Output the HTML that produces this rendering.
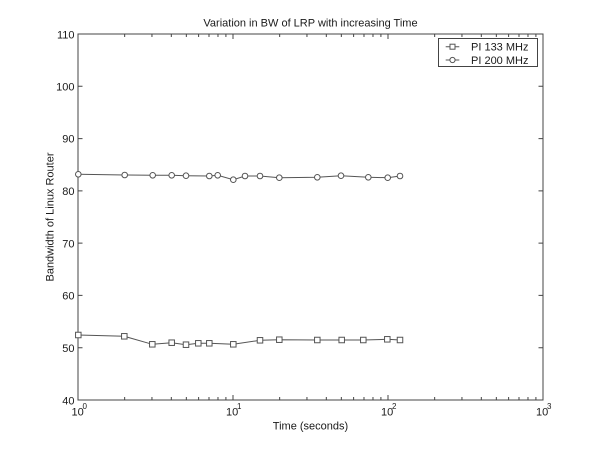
<!DOCTYPE html>
<html><head><meta charset="utf-8">
<style>
html,body{margin:0;padding:0;background:#fff;}
svg{display:block;}
text{font-family:"Liberation Sans",Arial,sans-serif;fill:#1a1a1a;}
</style></head>
<body>
<svg width="600" height="450" viewBox="0 0 600 450" xmlns="http://www.w3.org/2000/svg">
<rect width="600" height="450" fill="#fff"/>
<text x="310.5" y="26.5" font-size="11" text-anchor="middle">Variation in BW of LRP with increasing Time</text>
<rect x="78" y="34" width="465" height="366" fill="none" stroke="#444" stroke-width="1"/>
<g stroke="#444" stroke-width="1">
<path d="M78 86.29h4.5M78 138.57h4.5M78 190.86h4.5M78 243.14h4.5M78 295.43h4.5M78 347.71h4.5
M543 86.29h-4.5M543 138.57h-4.5M543 190.86h-4.5M543 243.14h-4.5M543 295.43h-4.5M543 347.71h-4.5"/>
<path d="M233 400v-5M388 400v-5M233 34v5M388 34v5"/>
<path d="M124.66 400v-3M151.95 400v-3M171.32 400v-3M186.34 400v-3M198.61 400v-3M208.99 400v-3M217.98 400v-3M225.91 400v-3
M279.66 400v-3M306.95 400v-3M326.32 400v-3M341.34 400v-3M353.61 400v-3M363.99 400v-3M372.98 400v-3M380.91 400v-3
M434.66 400v-3M461.95 400v-3M481.32 400v-3M496.34 400v-3M508.61 400v-3M518.99 400v-3M527.98 400v-3M535.91 400v-3"/>
<path d="M124.66 34v3M151.95 34v3M171.32 34v3M186.34 34v3M198.61 34v3M208.99 34v3M217.98 34v3M225.91 34v3
M279.66 34v3M306.95 34v3M326.32 34v3M341.34 34v3M353.61 34v3M363.99 34v3M372.98 34v3M380.91 34v3
M434.66 34v3M461.95 34v3M481.32 34v3M496.34 34v3M508.61 34v3M518.99 34v3M527.98 34v3M535.91 34v3"/>
</g>
<g font-size="11" text-anchor="end">
<text x="74.5" y="38.5">110</text>
<text x="74.5" y="90.5">100</text>
<text x="74.5" y="142.5">90</text>
<text x="74.5" y="195">80</text>
<text x="74.5" y="247.5">70</text>
<text x="74.5" y="299.5">60</text>
<text x="74.5" y="352">50</text>
<text x="74.5" y="404.5">40</text>
</g>
<g font-size="11">
<text x="71.5" y="415.5">10</text><text x="82.5" y="409" font-size="8">0</text>
<text x="226" y="415.5">10</text><text x="237" y="409" font-size="8">1</text>
<text x="381" y="415.5">10</text><text x="392" y="409" font-size="8">2</text>
<text x="536" y="415.5">10</text><text x="547" y="409" font-size="8">3</text>
</g>
<text x="310.5" y="429.5" font-size="11" text-anchor="middle">Time (seconds)</text>
<text transform="translate(53.5,217) rotate(-90)" font-size="11" text-anchor="middle">Bandwidth of Linux Router</text>

<g stroke="#555" stroke-width="1" fill="none">
<polyline points="78.3,174.3 124.7,175 152.7,175.3 171.7,175.3 186,175.7 209.3,176 217.7,175.3 233.3,179.7 245,176 260,176 279.3,177.7 317.3,177.3 341,175.7 368.3,177.3 387.7,177.7 400,176"/>
<g fill="#fff">
<circle cx="78.3" cy="174.3" r="2.8"/><circle cx="124.7" cy="175" r="2.8"/><circle cx="152.7" cy="175.3" r="2.8"/><circle cx="171.7" cy="175.3" r="2.8"/><circle cx="186" cy="175.7" r="2.8"/><circle cx="209.3" cy="176" r="2.8"/><circle cx="217.7" cy="175.3" r="2.8"/><circle cx="233.3" cy="179.7" r="2.8"/><circle cx="245" cy="176" r="2.8"/><circle cx="260" cy="176" r="2.8"/><circle cx="279.3" cy="177.7" r="2.8"/><circle cx="317.3" cy="177.3" r="2.8"/><circle cx="341" cy="175.7" r="2.8"/><circle cx="368.3" cy="177.3" r="2.8"/><circle cx="387.7" cy="177.7" r="2.8"/><circle cx="400" cy="176" r="2.8"/>
</g>
<polyline points="78.3,335 124.3,336.3 152.3,344.3 171.7,342.7 186,344.7 198.3,343.3 209.3,343.3 233.3,344.3 260,340.3 279.3,339.7 317.3,340 341.7,340 363.3,340 387.3,339.3 400,340"/>
<g fill="#fff">
<rect x="75.55" y="332.25" width="5.5" height="5.5"/><rect x="121.55" y="333.55" width="5.5" height="5.5"/><rect x="149.55" y="341.55" width="5.5" height="5.5"/><rect x="168.95" y="339.95" width="5.5" height="5.5"/><rect x="183.25" y="341.95" width="5.5" height="5.5"/><rect x="195.55" y="340.55" width="5.5" height="5.5"/><rect x="206.55" y="340.55" width="5.5" height="5.5"/><rect x="230.55" y="341.55" width="5.5" height="5.5"/><rect x="257.25" y="337.55" width="5.5" height="5.5"/><rect x="276.55" y="336.95" width="5.5" height="5.5"/><rect x="314.55" y="337.25" width="5.5" height="5.5"/><rect x="338.95" y="337.25" width="5.5" height="5.5"/><rect x="360.55" y="337.25" width="5.5" height="5.5"/><rect x="384.55" y="336.55" width="5.5" height="5.5"/><rect x="397.25" y="337.25" width="5.5" height="5.5"/>
</g>
</g>

<rect x="438.5" y="38.5" width="99" height="28" fill="#fff" stroke="#444" stroke-width="1"/>
<g stroke="#555" stroke-width="1" fill="#fff">
<path d="M445.7 46.7H459.3M445.7 60H459.3"/>
<rect x="450" y="44.2" width="5" height="5"/>
<circle cx="452.5" cy="60" r="2.6"/>
</g>
<text x="471" y="50.5" font-size="11">PI 133 MHz</text>
<text x="471" y="64" font-size="11">PI 200 MHz</text>
</svg>
</body></html>
